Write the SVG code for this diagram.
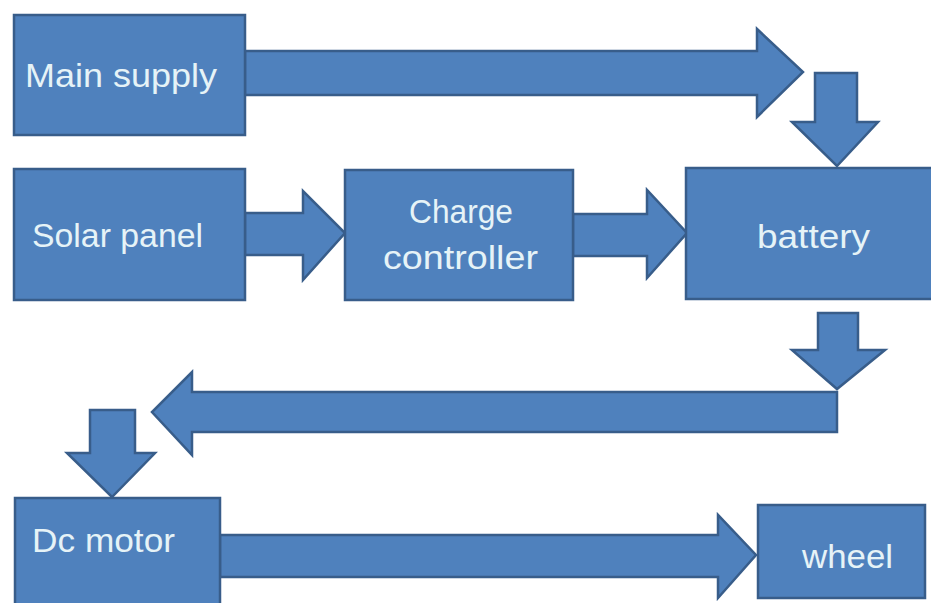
<svg xmlns="http://www.w3.org/2000/svg" width="931" height="603" viewBox="0 0 931 603">
<style>
.box{fill:#4f81bd;stroke:#385d8a;stroke-width:2.5}
.arr{fill:#4f81bd;stroke:#385d8a;stroke-width:2.5;stroke-linejoin:miter}
.lbl{font-family:"Liberation Sans",Arial,sans-serif;font-size:33px;fill:#e6f3f7}
</style>
<rect width="931" height="603" fill="#ffffff"/>
<g id="connectors">
<polygon class="arr" points="245,51 757,51 757,29 803,72 757,117 757,95 245,95"/>
<polygon class="arr" points="815,73 857,73 857,122 878,122 837,166 792,122 815,122"/>
<polygon class="arr" points="245,213 303,213 303,191 345,233 303,280 303,255 245,255"/>
<polygon class="arr" points="573,214 647,214 647,190 687,233 647,278 647,256 573,256"/>
<polygon class="arr" points="818,313 858,313 858,350 885,350 837,389 792,350 818,350"/>
<polygon class="arr" points="837,392 192,392 192,372 152,412 192,455 192,432 837,432"/>
<polygon class="arr" points="90,410 135,410 135,453 155,453 112,497 67,453 90,453"/>
<polygon class="arr" points="220,535 718,535 718,515 756,555 718,598 718,577 220,577"/>
</g>
<g id="main-supply">
<rect class="box" x="14" y="15" width="231" height="120"/>
<text class="lbl" x="25" y="87" textLength="192" lengthAdjust="spacingAndGlyphs">Main supply</text>
</g>
<g id="solar-panel">
<rect class="box" x="14" y="169" width="231" height="131"/>
<text class="lbl" x="32" y="247" textLength="171" lengthAdjust="spacingAndGlyphs">Solar panel</text>
</g>
<g id="charge-controller">
<rect class="box" x="345" y="170" width="228" height="130"/>
<text class="lbl" x="409" y="223" textLength="104" lengthAdjust="spacingAndGlyphs">Charge</text>
<text class="lbl" x="383" y="269" textLength="155" lengthAdjust="spacingAndGlyphs">controller</text>
</g>
<g id="battery">
<rect class="box" x="686" y="168" width="250" height="131"/>
<text class="lbl" x="757" y="248" textLength="113" lengthAdjust="spacingAndGlyphs">battery</text>
</g>
<g id="dc-motor">
<rect class="box" x="15" y="498" width="205" height="110"/>
<text class="lbl" x="32" y="552" textLength="143" lengthAdjust="spacingAndGlyphs">Dc motor</text>
</g>
<g id="wheel">
<rect class="box" x="758" y="505" width="167" height="93"/>
<text class="lbl" x="802" y="568" textLength="91" lengthAdjust="spacingAndGlyphs">wheel</text>
</g>
</svg>
